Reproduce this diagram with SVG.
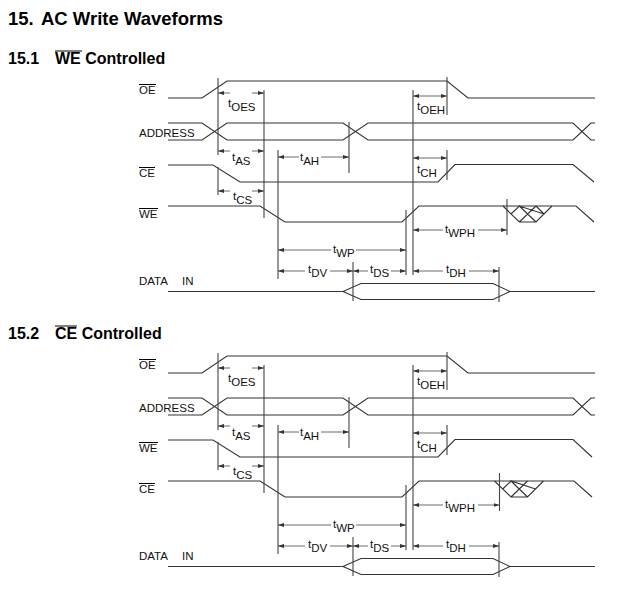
<svg xmlns="http://www.w3.org/2000/svg" width="639" height="598" viewBox="0 0 639 598">
<defs>
<marker id="ah" viewBox="0 0 6 4" refX="6" refY="2" markerWidth="6" markerHeight="4" markerUnits="userSpaceOnUse" orient="auto">
<path d="M0,0 L6,2 L0,4 z" fill="#333"/>
</marker>
<style>
.w{fill:none;stroke:#333;stroke-width:1.1;stroke-linejoin:miter}
.v{fill:none;stroke:#444;stroke-width:1.1}
.a{fill:none;stroke:#444;stroke-width:0.8;marker-end:url(#ah)}
.ol{stroke:#000;stroke-width:1}
.h1{font-family:"Liberation Sans",Arial,sans-serif;font-weight:bold;font-size:18.5px;fill:#000}
.h2{font-family:"Liberation Sans",Arial,sans-serif;font-weight:bold;font-size:16px;fill:#000}
.lb{font-family:"Liberation Sans",Arial,sans-serif;font-size:11.5px;fill:#111}
.tl{font-family:"Liberation Sans",Arial,sans-serif;font-size:11.5px;fill:#111}
</style>
</defs>
<rect width="639" height="598" fill="#fff"/>
<g id="title">
<text class="h1" x="8" y="25">15.</text>
<text class="h1" x="41" y="25">AC Write Waveforms</text>
</g>

<!-- Section 1 -->
<g id="sec1">
<g id="sec1-heading">
<text class="h2" x="8" y="64">15.1</text>
<text class="h2" x="55" y="64">WE Controlled</text>
<line class="ol" x1="55" y1="51" x2="82" y2="51"/>
</g>
<g id="sec1-labels">
<text class="lb" x="139" y="94">OE</text><line class="ol" x1="139" y1="84.5" x2="156" y2="84.5"/>
<text class="lb" x="139" y="137">ADDRESS</text>
<text class="lb" x="139" y="177">CE</text><line class="ol" x1="139" y1="167.5" x2="155" y2="167.5"/>
<text class="lb" x="139" y="218">WE</text><line class="ol" x1="139" y1="208.5" x2="158" y2="208.5"/>
<text class="lb" x="139" y="285">DATA</text><text class="lb" x="182" y="285">IN</text>
</g>
<g id="sec1-waves">
<path class="w" d="M168,98 H202 L227,81 H447 L468,98 H595"/>
<path class="w" d="M168,123 H202 L227,140 H343 L368,123 H573 L591,140 H595"/>
<path class="w" d="M168,140 H202 L227,123 H343 L368,140 H573 L591,123 H595"/>
<path class="w" d="M168,165 H213 L240,182 H438 L455,164.5 H573 L594,182"/>
<path class="w" d="M168,206 H260 L285,222 H402 L419,206 H576 L594,222"/>
<path class="w" d="M503,206 L519.3,222 H536 L552,206 M511,214 L519.3,206 L544,214 M519.3,222 L536,206 M519.3,206 L536,222 M536,206 L544,214"/>
<path class="w" d="M168,291.5 H343 L361,283.5 H493 L510,291.5 H595 M343,291.5 L361,299.5 H493 L510,291.5"/>
</g>
<g id="sec1-timing">
<path class="v" d="M218,78 V155 M218,167 V195 M264,90 V218 M278,150 V279 M349,122 V173 M447,77 V115 M447,150 V180 M413,90 V275 M406,210 V275 M507,199 V235 M353,262 V301 M499,267 V302"/>
<line class="a" x1="230" y1="93" x2="218" y2="93"/><line class="a" x1="252" y1="93" x2="264" y2="93"/>
<line class="a" x1="230" y1="151" x2="218" y2="151"/><line class="a" x1="252" y1="151" x2="264" y2="151"/>
<line class="a" x1="230" y1="191" x2="218" y2="191"/><line class="a" x1="252" y1="191" x2="264" y2="191"/>
<line class="a" x1="299" y1="157" x2="278" y2="157"/><line class="a" x1="321" y1="157" x2="349" y2="157"/>
<line class="a" x1="430" y1="96" x2="413" y2="96"/><line class="a" x1="430" y1="96" x2="447" y2="96"/>
<line class="a" x1="430" y1="158" x2="413" y2="158"/><line class="a" x1="430" y1="158" x2="447" y2="158"/>
<line class="a" x1="443" y1="230" x2="413" y2="230"/><line class="a" x1="478" y1="230" x2="507" y2="230"/>
<line class="a" x1="331" y1="250" x2="278" y2="250"/><line class="a" x1="356" y1="250" x2="406" y2="250"/>
<line class="a" x1="305" y1="271" x2="278" y2="271"/><line class="a" x1="330" y1="271" x2="353" y2="271"/>
<line class="a" x1="368" y1="271" x2="353" y2="271"/><line class="a" x1="391" y1="271" x2="406" y2="271"/>
<line class="a" x1="443" y1="271" x2="413" y2="271"/><line class="a" x1="469" y1="271" x2="499" y2="271"/>
<text class="tl" x="228" y="111"><tspan dy="-4">t</tspan><tspan dy="4">OES</tspan></text>
<text class="tl" x="232" y="165"><tspan dy="-4">t</tspan><tspan dy="4">AS</tspan></text>
<text class="tl" x="300" y="165"><tspan dy="-4">t</tspan><tspan dy="4">AH</tspan></text>
<text class="tl" x="233" y="204"><tspan dy="-4">t</tspan><tspan dy="4">CS</tspan></text>
<text class="tl" x="417" y="114"><tspan dy="-4">t</tspan><tspan dy="4">OEH</tspan></text>
<text class="tl" x="417" y="177"><tspan dy="-4">t</tspan><tspan dy="4">CH</tspan></text>
<text class="tl" x="445" y="237"><tspan dy="-4">t</tspan><tspan dy="4">WPH</tspan></text>
<text class="tl" x="333" y="257"><tspan dy="-4">t</tspan><tspan dy="4">WP</tspan></text>
<text class="tl" x="308" y="277"><tspan dy="-4">t</tspan><tspan dy="4">DV</tspan></text>
<text class="tl" x="370" y="277"><tspan dy="-4">t</tspan><tspan dy="4">DS</tspan></text>
<text class="tl" x="446" y="277"><tspan dy="-4">t</tspan><tspan dy="4">DH</tspan></text>
</g>
</g>

<!-- Section 2 -->
<g id="sec2">
<g id="sec2-heading">
<text class="h2" x="8" y="339">15.2</text>
<text class="h2" x="55" y="339">CE Controlled</text>
<line class="ol" x1="55" y1="326" x2="77" y2="326"/>
</g>
<g id="sec2-labels">
<text class="lb" x="139" y="369">OE</text><line class="ol" x1="139" y1="359.5" x2="156" y2="359.5"/>
<text class="lb" x="139" y="412">ADDRESS</text>
<text class="lb" x="139" y="452">WE</text><line class="ol" x1="139" y1="442.5" x2="158" y2="442.5"/>
<text class="lb" x="139" y="493">CE</text><line class="ol" x1="139" y1="483.5" x2="155" y2="483.5"/>
<text class="lb" x="139" y="560">DATA</text><text class="lb" x="182" y="560">IN</text>
</g>
<g id="sec2-waves">
<path class="w" d="M168,373 H202 L227,356 H447 L468,373 H595"/>
<path class="w" d="M168,398 H202 L227,415 H343 L368,398 H573 L591,415 H595"/>
<path class="w" d="M168,415 H202 L227,398 H343 L368,415 H573 L591,398 H595"/>
<path class="w" d="M168,440 H213 L240,457 H438 L455,439.5 H573 L592,457"/>
<path class="w" d="M168,481 H260 L285,497 H402 L419,481 H574 L592,497"/>
<path class="w" d="M494.5,481 L511,497 H527.5 L543.5,481 M502.7,489 L511,481 L535.5,489 M511,497 L527.5,481 M511,481 L527.5,497"/>
<path class="w" d="M168,566.5 H343 L361,558.5 H493 L510,566.5 H595 M343,566.5 L361,574.5 H493 L510,566.5"/>
</g>
<g id="sec2-timing">
<path class="v" d="M218,353 V430 M218,442 V470 M264,365 V493 M278,425 V554 M349,397 V448 M447,352 V390 M447,425 V455 M413,365 V550 M406,485 V550 M499.5,473 V511 M353,537 V576 M499,542 V577"/>
<line class="a" x1="230" y1="368" x2="218" y2="368"/><line class="a" x1="252" y1="368" x2="264" y2="368"/>
<line class="a" x1="230" y1="426" x2="218" y2="426"/><line class="a" x1="252" y1="426" x2="264" y2="426"/>
<line class="a" x1="230" y1="466" x2="218" y2="466"/><line class="a" x1="252" y1="466" x2="264" y2="466"/>
<line class="a" x1="299" y1="432" x2="278" y2="432"/><line class="a" x1="321" y1="432" x2="349" y2="432"/>
<line class="a" x1="430" y1="371" x2="413" y2="371"/><line class="a" x1="430" y1="371" x2="447" y2="371"/>
<line class="a" x1="430" y1="433" x2="413" y2="433"/><line class="a" x1="430" y1="433" x2="447" y2="433"/>
<line class="a" x1="443" y1="505" x2="413" y2="505"/><line class="a" x1="478" y1="505" x2="499.5" y2="505"/>
<line class="a" x1="331" y1="525" x2="278" y2="525"/><line class="a" x1="356" y1="525" x2="406" y2="525"/>
<line class="a" x1="305" y1="546" x2="278" y2="546"/><line class="a" x1="330" y1="546" x2="353" y2="546"/>
<line class="a" x1="368" y1="546" x2="353" y2="546"/><line class="a" x1="391" y1="546" x2="406" y2="546"/>
<line class="a" x1="443" y1="546" x2="413" y2="546"/><line class="a" x1="469" y1="546" x2="499" y2="546"/>
<text class="tl" x="228" y="386"><tspan dy="-4">t</tspan><tspan dy="4">OES</tspan></text>
<text class="tl" x="232" y="440"><tspan dy="-4">t</tspan><tspan dy="4">AS</tspan></text>
<text class="tl" x="300" y="440"><tspan dy="-4">t</tspan><tspan dy="4">AH</tspan></text>
<text class="tl" x="233" y="479"><tspan dy="-4">t</tspan><tspan dy="4">CS</tspan></text>
<text class="tl" x="417" y="389"><tspan dy="-4">t</tspan><tspan dy="4">OEH</tspan></text>
<text class="tl" x="417" y="452"><tspan dy="-4">t</tspan><tspan dy="4">CH</tspan></text>
<text class="tl" x="445" y="512"><tspan dy="-4">t</tspan><tspan dy="4">WPH</tspan></text>
<text class="tl" x="333" y="532"><tspan dy="-4">t</tspan><tspan dy="4">WP</tspan></text>
<text class="tl" x="308" y="552"><tspan dy="-4">t</tspan><tspan dy="4">DV</tspan></text>
<text class="tl" x="370" y="552"><tspan dy="-4">t</tspan><tspan dy="4">DS</tspan></text>
<text class="tl" x="446" y="552"><tspan dy="-4">t</tspan><tspan dy="4">DH</tspan></text>
</g>
</g>
</svg>
